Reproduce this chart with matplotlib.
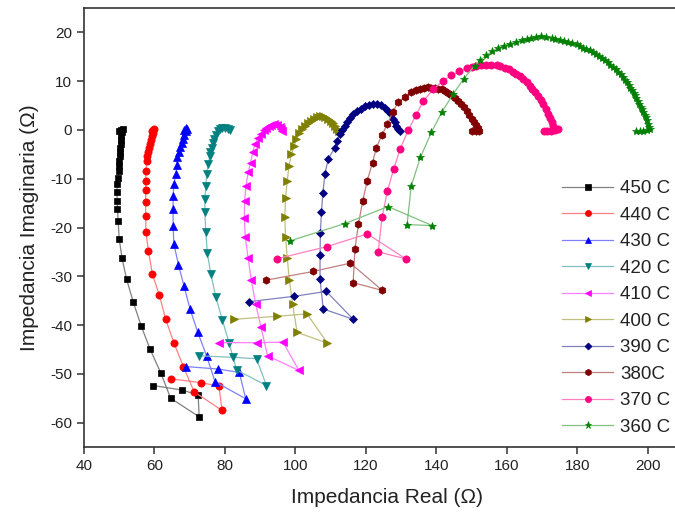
import matplotlib
matplotlib.use('Agg')
import matplotlib.pyplot as plt
from matplotlib.colors import to_rgb

plt.rcParams['font.family'] = ['Liberation Sans', 'DejaVu Sans']
plt.rcParams['axes.unicode_minus'] = False

labels = ['450 C', '440 C', '430 C', '420 C', '410 C', '400 C', '390 C', '380C', '370 C', '360 C']
colors = ['#000000', '#FF0000', '#0000FF', '#008080', '#FF00FF', '#808000', '#000080', '#800000', '#FF0080', '#008000']
markers = ['s', 'o', '^', 'v', '<', '>', 'D', 'h', 'o', '*']
msizes = [4.4, 5.2, 5.8, 5.8, 5.8, 5.8, 4.2, 5.4, 5.2, 6.0]

x450 = [50.0, 50.6, 51.0, 50.8, 50.6, 50.5, 50.4, 50.3, 50.2, 50.1, 50.0, 49.9, 49.9, 49.6, 49.4, 49.4, 49.4, 49.5, 49.7, 50.0, 50.8, 52.1, 54.0, 56.2, 58.8, 61.8, 64.6, 72.7, 72.4, 67.7, 59.7]
y450 = [-0.2, 0.0, 0.1, -0.5, -1.2, -2.0, -2.8, -3.6, -4.5, -5.4, -6.3, -7.3, -8.4, -9.8, -11.1, -12.8, -14.5, -16.2, -18.6, -22.3, -26.3, -30.6, -35.3, -40.1, -45.0, -49.8, -55.0, -58.8, -54.3, -53.3, -52.4]

x440 = [59.2, 59.7, 60.0, 59.6, 59.3, 59.0, 58.7, 58.4, 58.2, 58.0, 57.8, 57.6, 57.5, 57.5, 57.5, 57.5, 57.6, 58.3, 59.4, 61.4, 63.2, 65.5, 68.2, 71.3, 79.2, 78.3, 73.1, 64.6]
y440 = [-0.2, 0.0, 0.1, -0.6, -1.3, -2.0, -2.8, -3.6, -4.5, -5.4, -6.3, -8.4, -10.4, -12.4, -14.8, -17.6, -21.0, -24.8, -29.5, -33.9, -38.8, -43.6, -48.5, -53.7, -57.5, -52.5, -51.8, -51.0]

x430 = [68.3, 68.9, 69.2, 68.9, 68.5, 68.1, 67.7, 67.3, 66.9, 66.5, 66.3, 66.1, 65.5, 65.3, 65.3, 65.3, 65.5, 66.8, 68.4, 70.1, 72.3, 74.8, 77.2, 85.9, 84.1, 77.9, 68.9]
y430 = [0.0, 0.5, 0.3, -0.3, -1.0, -1.8, -2.6, -3.5, -4.5, -5.6, -7.2, -9.0, -11.1, -13.5, -16.2, -19.6, -23.3, -27.6, -32.0, -36.7, -41.5, -46.3, -51.6, -55.1, -49.7, -49.0, -48.5]

x420 = [81.5, 80.9, 80.0, 79.2, 78.5, 77.9, 77.4, 77.0, 76.6, 76.2, 75.9, 75.7, 75.3, 74.8, 74.6, 74.3, 74.3, 74.6, 75.0, 76.0, 77.4, 79.3, 81.2, 83.3, 91.8, 89.0, 82.2, 72.6]
y420 = [-0.1, 0.2, 0.4, 0.4, 0.2, -0.3, -1.0, -1.8, -2.7, -3.6, -4.5, -5.3, -7.0, -9.0, -11.4, -14.1, -16.9, -21.0, -25.2, -29.5, -34.2, -39.0, -43.7, -49.2, -52.4, -46.9, -46.6, -46.3]

x410 = [96.1, 96.0, 95.5, 94.8, 94.0, 93.2, 92.4, 91.7, 91.0, 90.3, 89.5, 88.5, 87.9, 87.3, 86.6, 86.0, 85.6, 85.5, 85.8, 86.6, 87.5, 88.7, 90.2, 92.1, 101.0, 96.5, 89.2, 78.4]
y410 = [-0.2, 0.3, 0.7, 1.0, 1.2, 1.1, 0.8, 0.4, -0.1, -0.8, -1.6, -2.9, -4.6, -6.7, -8.7, -11.4, -14.5, -18.0, -22.0, -26.3, -30.8, -35.6, -40.3, -46.3, -49.3, -43.5, -43.6, -43.6]

x400 = [112.3, 111.8, 111.2, 110.6, 110.0, 109.3, 108.5, 107.7, 106.9, 106.1, 105.3, 104.5, 103.6, 102.7, 101.8, 101.0, 100.3, 99.6, 98.9, 98.2, 97.7, 97.2, 97.0, 97.2, 97.7, 98.3, 99.2, 100.5, 109.1, 103.3, 94.8, 82.6]
y400 = [-0.3, 0.2, 0.8, 1.4, 1.9, 2.3, 2.6, 2.8, 2.8, 2.6, 2.3, 1.9, 1.4, 0.9, 0.2, -0.6, -1.9, -3.3, -5.0, -7.3, -10.4, -13.9, -17.9, -21.9, -26.3, -30.8, -35.6, -41.5, -43.7, -37.7, -38.2, -38.8]

x390 = [129.6, 129.0, 128.7, 128.2, 127.7, 127.0, 126.3, 125.4, 124.4, 123.3, 122.1, 120.9, 119.7, 118.5, 117.4, 116.4, 115.5, 114.7, 114.0, 113.3, 112.6, 111.9, 111.2, 109.3, 108.4, 107.8, 107.4, 107.1, 107.0, 107.0, 107.9, 116.4, 108.8, 99.6, 86.9]
y390 = [-0.3, 0.3, 0.8, 1.6, 2.3, 3.2, 3.9, 4.6, 5.1, 5.3, 5.4, 5.2, 4.9, 4.4, 3.9, 3.2, 2.5, 1.7, 0.8, -0.1, -0.9, -2.2, -3.6, -6.0, -9.0, -12.9, -16.9, -21.1, -25.7, -30.6, -36.7, -38.8, -33.1, -34.1, -35.2]

x380 = [150.2, 151.2, 152.2, 151.8, 151.2, 150.6, 150.0, 149.4, 148.6, 147.8, 147.0, 146.1, 145.2, 144.3, 143.4, 142.4, 141.5, 140.5, 139.6, 138.6, 137.7, 136.5, 135.3, 134.1, 132.9, 131.1, 129.2, 127.6, 126.1, 124.6, 123.0, 121.9, 120.4, 119.1, 117.9, 116.9, 116.4, 124.7, 115.6, 105.1, 91.6]
y380 = [-0.3, -0.3, -0.2, 0.4, 1.0, 1.6, 2.3, 3.0, 3.9, 4.7, 5.3, 6.0, 6.6, 7.1, 7.6, 8.0, 8.3, 8.5, 8.6, 8.7, 8.8, 8.7, 8.5, 8.2, 7.8, 6.8, 5.8, 3.6, 1.2, -1.0, -3.6, -6.7, -10.4, -14.6, -19.3, -24.4, -31.3, -32.9, -27.3, -29.0, -30.8]

x370 = [170.5, 171.5, 172.6, 173.7, 174.4, 173.2, 172.7, 172.2, 171.7, 171.0, 170.3, 169.6, 168.9, 168.1, 167.3, 166.5, 165.6, 164.6, 163.7, 162.7, 161.8, 160.6, 159.4, 158.2, 157.1, 155.6, 154.2, 152.8, 151.4, 150.0, 148.7, 146.5, 144.3, 141.8, 139.1, 136.3, 134.2, 132.0, 129.8, 127.9, 126.1, 124.6, 123.5, 131.3, 120.4, 109.0, 94.8]
y370 = [-0.3, -0.3, -0.2, -0.1, 0.1, 0.8, 1.6, 2.5, 3.3, 4.3, 5.3, 6.1, 6.9, 7.7, 8.4, 9.1, 9.8, 10.5, 11.0, 11.5, 11.9, 12.4, 12.8, 13.1, 13.3, 13.4, 13.4, 13.3, 13.2, 13.0, 12.7, 12.0, 11.2, 10.0, 8.3, 5.9, 3.0, -0.1, -3.8, -8.0, -12.6, -17.9, -25.0, -26.4, -21.3, -23.9, -26.4]

x360 = [196.8, 197.8, 198.8, 199.8, 200.7, 200.5, 200.2, 199.8, 199.5, 199.1, 198.8, 198.4, 198.0, 197.5, 197.2, 196.8, 196.4, 196.0, 195.6, 195.1, 194.6, 194.1, 193.6, 193.0, 192.3, 191.6, 190.9, 190.1, 189.4, 188.7, 187.9, 187.1, 186.3, 185.4, 184.5, 183.5, 182.6, 181.6, 180.7, 179.8, 178.6, 177.4, 176.2, 175.0, 173.8, 172.7, 171.2, 169.8, 168.4, 167.0, 165.6, 164.2, 162.5, 160.9, 159.2, 157.5, 155.8, 154.2, 152.5, 150.9, 147.8, 144.8, 141.6, 138.6, 135.5, 132.9, 131.7, 138.9, 126.3, 114.0, 98.6]
y360 = [-0.2, -0.3, -0.2, -0.1, 0.1, 0.6, 1.3, 2.0, 2.6, 3.1, 3.7, 4.2, 4.8, 5.4, 6.0, 6.5, 7.1, 7.6, 8.1, 8.6, 9.2, 9.8, 10.3, 10.8, 11.4, 11.9, 12.4, 12.9, 13.4, 13.9, 14.4, 14.8, 15.2, 15.6, 16.0, 16.3, 16.6, 16.9, 17.3, 17.6, 17.8, 18.0, 18.3, 18.5, 18.7, 18.8, 19.0, 19.2, 19.0, 18.8, 18.6, 18.4, 18.0, 17.7, 17.3, 16.8, 16.1, 15.3, 14.3, 13.2, 10.5, 7.4, 3.7, -0.5, -5.6, -11.4, -19.4, -19.6, -15.7, -19.2, -22.7]

xs = [x450, x440, x430, x420, x410, x400, x390, x380, x370, x360]
ys = [y450, y440, y430, y420, y410, y400, y390, y380, y370, y360]

xticks = [40, 60, 80, 100, 120, 140, 160, 180, 200]
yticks = [20, 10, 0, -10, -20, -30, -40, -50, -60]

fig = plt.figure(figsize=(6.75, 5.18), dpi=100)
ax = fig.add_axes([0.1244, 0.137, 0.8978, 0.8475])

def lighten(c, f=0.5):
    r, g, b = to_rgb(c)
    return (r + (1 - r) * f, g + (1 - g) * f, b + (1 - b) * f)

for x, y, c, m, ms, lab in zip(xs, ys, colors, markers, msizes, labels):
    ax.plot(x, y, color=lighten(c, 0.5), lw=0.9, marker=m, ms=ms,
            mfc=c, mec=c, mew=0.5, label=lab)

ax.set_xlim(40, 212)
ax.set_ylim(-65, 25)
ax.set_xticks(xticks)
ax.set_yticks(yticks)
ax.tick_params(direction='out', length=5, width=1.1, color='#333333',
               labelsize=11, labelcolor='#222222', top=False, right=False)
for s in ax.spines.values():
    s.set_color('#333333')
    s.set_linewidth(1.2)

ax.set_xlabel('Impedancia Real (\u03a9)', fontsize=15, color='#222222', labelpad=11)
ax.set_ylabel('Impedancia Imaginaria (\u03a9)', fontsize=15, color='#222222', labelpad=8)

leg = ax.legend(loc='upper left', bbox_to_anchor=(0.833, 0.652), bbox_transform=fig.transFigure,
                frameon=False, fontsize=13.5, handlelength=2.7, handletextpad=0.4,
                labelspacing=0.5, borderpad=0, borderaxespad=0, markerscale=0.85)
for t in leg.get_texts():
    t.set_color('#222222')

fig.savefig('out.png', dpi=100)
